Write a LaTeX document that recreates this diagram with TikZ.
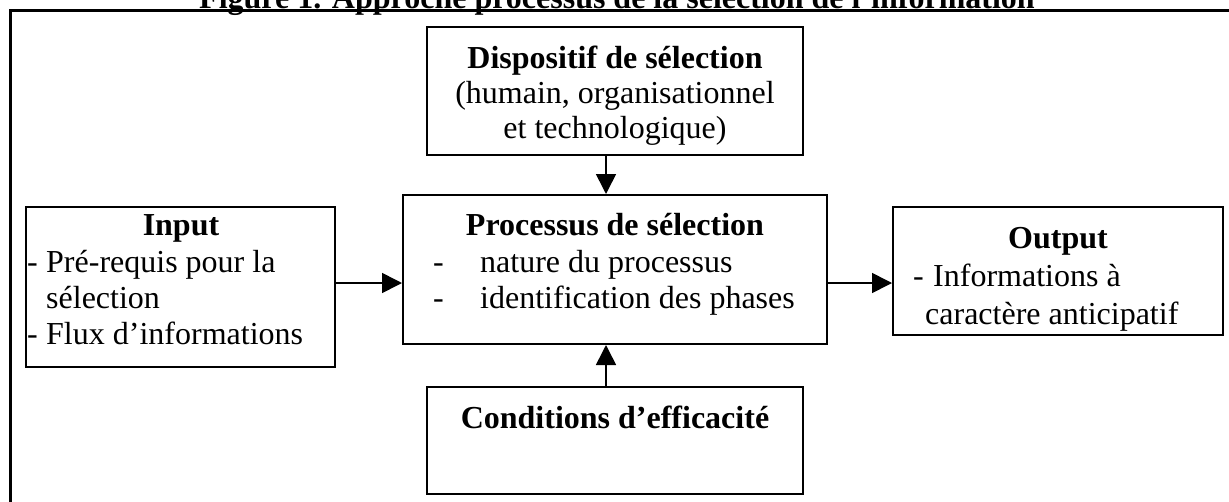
\documentclass[tikz,border=0pt]{standalone}
\usepackage{fontspec}
\setmainfont{Liberation Serif}
\usetikzlibrary{arrows.meta}

\begin{document}
\begin{tikzpicture}[x=1pt,y=-1pt,
    box/.style={draw,line width=2pt,inner sep=0pt},
    txt/.style={inner sep=0pt,anchor=base west,font=\fontsize{32}{36}\selectfont},
    head/.style={inner sep=0pt,anchor=base,font=\fontsize{32}{36}\selectfont\bfseries},
    flow/.style={-{Triangle[length=20pt,width=20pt]},line width=1.6pt}]
\useasboundingbox (0,0) rectangle (1229,501);
\clip (0,0) rectangle (1229,501);
% frame and title (cut off at the top)
\draw[line width=3pt] (10,600) -- (10,10) -- (1300,10);
\node[head] (title) at (617,8) {Figure 1. Approche processus de la sélection de l’information};

% boxes
\node[box,minimum width=376pt,minimum height=128pt] (disp) at (615,91) {};
\node[box,minimum width=424pt,minimum height=149pt] (proc) at (615,269.5) {};
\node[box,minimum width=309pt,minimum height=160pt] (input) at (180.5,287) {};
\node[box,minimum width=330pt,minimum height=128pt] (output) at (1058,271) {};
\node[box,minimum width=376pt,minimum height=107pt] (cond) at (615,440.5) {};

% texts
\node[head] (dispA) at (615,68) {Dispositif de sélection};
\node[head,font=\fontsize{32}{36}\selectfont] (dispB) at (615,103) {(humain, organisationnel};
\begin{scope}
  \clip (disp.north west) rectangle (disp.south east);
  \node[head,font=\fontsize{32}{36}\selectfont] (dispC) at (615,138) {et technologique)};
\end{scope}

\node[head] (procA) at (615,235) {Processus de sélection};
\node[txt] (procB) at (433,272) {-};
\node[txt] (procC) at (480,272) {nature du processus};
\node[txt] (procD) at (433,308) {-};
\node[txt] (procE) at (480,308) {identification des phases};

\node[head] (inA) at (181,235) {Input};
\node[txt] (inB) at (27,272) {-};
\node[txt] (inC) at (46,272) {Pré-requis pour la};
\node[txt] (inD) at (46,308) {sélection};
\node[txt] (inE) at (27,344) {-};
\node[txt] (inF) at (46,344) {Flux d’informations};

\node[head] (outA) at (1058,248) {Output};
\node[txt] (outB) at (913,286) {-};
\node[txt] (outC) at (933,286) {Informations à};
\node[txt] (outD) at (925,324) {caractère anticipatif};

\node[head] (condA) at (615,428) {Conditions d’efficacité};

% connectors
\coordinate (lvl) at (0,283);
\coordinate (axis) at (606,0);
\draw[flow] (disp.south -| axis) -- (proc.north -| axis);
\draw[flow] (cond.north -| axis) -- (proc.south -| axis);
\draw[flow] (input.east |- lvl) -- (proc.west |- lvl);
\draw[flow] (proc.east |- lvl) -- (output.west |- lvl);
\end{tikzpicture}
\end{document}
